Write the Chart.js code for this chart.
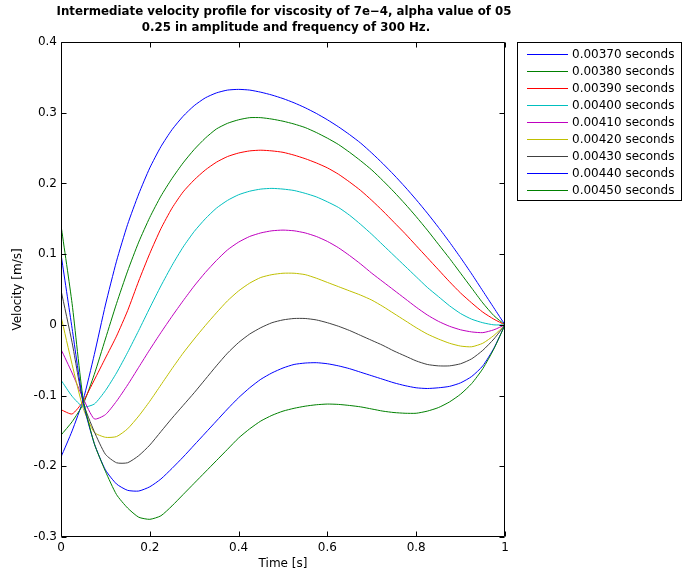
<!DOCTYPE html>
<html>
<head>
<meta charset="utf-8">
<title>Intermediate velocity profile</title>
<script src="https://cdn.jsdelivr.net/npm/chart.js@4/dist/chart.umd.min.js"></script>
<style>
  html, body { margin: 0; padding: 0; background: #ffffff; }
  #wrap { width: 683px; height: 576px; position: relative; }
</style>
</head>
<body>
<div id="wrap"><canvas id="chart" width="683" height="576"></canvas></div>
<script>
// Sample positions along the horizontal axis
const timeAxis = [
  0, 0.025, 0.05, 0.075, 0.1, 0.125, 0.15, 0.175, 0.2, 0.225,
  0.25, 0.275, 0.3, 0.325, 0.35, 0.375, 0.4, 0.425, 0.45, 0.475,
  0.5, 0.525, 0.55, 0.575, 0.6, 0.625, 0.65, 0.675, 0.7, 0.725,
  0.75, 0.775, 0.8, 0.825, 0.85, 0.875, 0.9, 0.925, 0.95, 0.975, 1
];

// Velocity profiles [m/s], one per time instant
const v00370 = [
  -0.187, -0.150, -0.106, -0.042, 0.028, 0.090, 0.142, 0.185, 0.222, 0.252,
  0.276, 0.295, 0.310, 0.321, 0.328, 0.332, 0.333, 0.332, 0.329, 0.325,
  0.320, 0.314, 0.307, 0.299, 0.290, 0.280, 0.269, 0.257, 0.243, 0.228,
  0.212, 0.195, 0.177, 0.158, 0.138, 0.117, 0.095, 0.072, 0.048, 0.024, 0
];
const v00380 = [
  -0.156, -0.137, -0.112, -0.070, -0.020, 0.030, 0.076, 0.117, 0.152, 0.182,
  0.207, 0.229, 0.248, 0.264, 0.277, 0.285, 0.290, 0.293, 0.293, 0.291,
  0.288, 0.284, 0.279, 0.272, 0.264, 0.255, 0.244, 0.232, 0.219, 0.204,
  0.188, 0.171, 0.153, 0.134, 0.114, 0.094, 0.073, 0.052, 0.031, 0.013, 0
];
const v00390 = [
  -0.120, -0.126, -0.108, -0.078, -0.047, -0.016, 0.020, 0.062, 0.101, 0.136,
  0.165, 0.188, 0.205, 0.219, 0.230, 0.238, 0.243, 0.246, 0.247, 0.246,
  0.244, 0.240, 0.235, 0.229, 0.222, 0.213, 0.202, 0.190, 0.176, 0.161,
  0.145, 0.129, 0.112, 0.095, 0.078, 0.061, 0.045, 0.031, 0.018, 0.008, 0
];
const v00400 = [
  -0.078, -0.101, -0.116, -0.112, -0.093, -0.068, -0.039, -0.008, 0.024, 0.055,
  0.084, 0.110, 0.132, 0.150, 0.165, 0.176, 0.184, 0.189, 0.192, 0.193,
  0.192, 0.190, 0.186, 0.181, 0.174, 0.166, 0.155, 0.142, 0.128, 0.113,
  0.098, 0.083, 0.068, 0.053, 0.040, 0.027, 0.016, 0.008, 0.003, 0.000, 0
];
const v00410 = [
  -0.0345, -0.068, -0.104, -0.133, -0.127, -0.108, -0.085, -0.060, -0.035, -0.011,
  0.012, 0.034, 0.055, 0.074, 0.091, 0.106, 0.117, 0.125, 0.130, 0.133,
  0.134, 0.133, 0.130, 0.125, 0.118, 0.109, 0.098, 0.086, 0.073, 0.061,
  0.049, 0.037, 0.025, 0.014, 0.005, -0.002, -0.007, -0.010, -0.011, -0.007, 0
];
const v00420 = [
  0.012, -0.056, -0.118, -0.152, -0.159, -0.158, -0.147, -0.129, -0.108, -0.085,
  -0.062, -0.040, -0.020, -0.001, 0.017, 0.034, 0.048, 0.059, 0.067, 0.071,
  0.073, 0.073, 0.071, 0.066, 0.060, 0.054, 0.048, 0.042, 0.035, 0.026,
  0.016, 0.006, -0.004, -0.013, -0.020, -0.026, -0.030, -0.031, -0.026, -0.015, 0
];
const v00430 = [
  0.049, -0.025, -0.110, -0.151, -0.183, -0.195, -0.195, -0.185, -0.170, -0.151,
  -0.132, -0.114, -0.096, -0.077, -0.058, -0.040, -0.025, -0.013, -0.004, 0.003,
  0.007, 0.009, 0.009, 0.007, 0.003, -0.002, -0.008, -0.015, -0.022, -0.029,
  -0.037, -0.044, -0.051, -0.056, -0.058, -0.058, -0.055, -0.048, -0.036, -0.020, 0
];
const v00440 = [
  0.100, -0.005, -0.110, -0.168, -0.205, -0.225, -0.234, -0.235, -0.229, -0.218,
  -0.203, -0.187, -0.170, -0.153, -0.136, -0.119, -0.103, -0.089, -0.077, -0.068,
  -0.061, -0.056, -0.054, -0.0535, -0.055, -0.058, -0.062, -0.067, -0.072, -0.077,
  -0.082, -0.086, -0.089, -0.090, -0.089, -0.087, -0.082, -0.073, -0.058, -0.033, 0
];
const v00450 = [
  0.141, 0.030, -0.105, -0.168, -0.207, -0.240, -0.259, -0.272, -0.275, -0.270,
  -0.256, -0.240, -0.224, -0.208, -0.192, -0.176, -0.160, -0.147, -0.136, -0.128,
  -0.122, -0.118, -0.115, -0.113, -0.112, -0.1125, -0.114, -0.116, -0.119, -0.122,
  -0.124, -0.125, -0.125, -0.122, -0.117, -0.109, -0.098, -0.083, -0.062, -0.034, 0
];

const seriesLabels = [
  '0.00370 seconds', '0.00380 seconds', '0.00390 seconds',
  '0.00400 seconds', '0.00410 seconds', '0.00420 seconds',
  '0.00430 seconds', '0.00440 seconds', '0.00450 seconds'
];
const seriesValues = [v00370, v00380, v00390, v00400, v00410, v00420, v00430, v00440, v00450];
// classic plot colour cycle: b g r c m y k, then repeating
const seriesColors = ['#0000ff', '#008000', '#ff0000', '#00bfbf', '#bf00bf', '#bfbf00', '#404040', '#0000ff', '#008000'];

const xTicks = [0, 0.2, 0.4, 0.6, 0.8, 1];
const yTicks = [-0.3, -0.2, -0.1, 0, 0.1, 0.2, 0.3, 0.4];

const titleLines = [
  'Intermediate velocity profile for viscosity of 7e\u22124, alpha value of 05',
  '0.25 in amplitude and frequency of 300 Hz.'
];
const xTitle = 'Time [s]';
const yTitle = 'Velocity [m/s]';

const FONT = 'DejaVu Sans';
Chart.defaults.font.family = FONT;
Chart.defaults.font.size = 12;
Chart.defaults.color = '#000000';

const datasets = seriesValues.map((vals, i) => ({
  label: seriesLabels[i],
  data: timeAxis.map((t, k) => ({ x: t, y: vals[k] })),
  borderColor: seriesColors[i],
  backgroundColor: seriesColors[i],
  borderWidth: 1,
  pointRadius: 0,
  tension: 0.2,
  fill: false,
  order: seriesValues.length - i
}));

// Axes box, inward ticks, title and legend
const frame = {
  id: 'frame',
  afterDatasetsDraw(chart) {
    const { ctx, chartArea: a, scales } = chart;
    const xs = scales.x, ys = scales.y;
    const L = Math.round(a.left) + 0.5, R = Math.round(a.right) - 0.5;
    const T = Math.round(a.top) + 0.5, B = Math.round(a.bottom) - 0.5;
    ctx.save();
    ctx.strokeStyle = '#000000';
    ctx.lineWidth = 1;
    ctx.beginPath();
    ctx.rect(L, T, R - L, B - T);
    const tl = 5;
    xTicks.forEach(v => {
      const px = Math.round(xs.getPixelForValue(v)) + 0.5;
      ctx.moveTo(px, B); ctx.lineTo(px, B - tl);
      ctx.moveTo(px, T); ctx.lineTo(px, T + tl);
    });
    yTicks.forEach(v => {
      const py = Math.round(ys.getPixelForValue(v)) + 0.5;
      ctx.moveTo(L, py); ctx.lineTo(L + tl, py);
      ctx.moveTo(R, py); ctx.lineTo(R - tl, py);
    });
    ctx.stroke();
    ctx.restore();
  },
  afterDraw(chart) {
    const { ctx } = chart;
    ctx.save();
    // title
    ctx.fillStyle = '#000000';
    ctx.font = 'bold 11.8px "' + FONT + '"';
    ctx.textAlign = 'center';
    ctx.textBaseline = 'alphabetic';
    ctx.fillText(titleLines[0], 284, 15);
    ctx.fillText(titleLines[1], 286, 31);

    // legend
    const bx = 517.5, by = 42.5, bw = 164, bh = 158;
    ctx.fillStyle = '#ffffff';
    ctx.fillRect(bx, by, bw, bh);
    ctx.strokeStyle = '#000000';
    ctx.lineWidth = 1;
    ctx.strokeRect(bx, by, bw, bh);
    ctx.font = '12px "' + FONT + '"';
    ctx.textAlign = 'left';
    ctx.textBaseline = 'middle';
    chart.data.datasets.forEach((ds, i) => {
      const y = 54 + 17 * i;
      ctx.strokeStyle = ds.borderColor;
      ctx.beginPath();
      ctx.moveTo(527, y + 0.5);
      ctx.lineTo(568, y + 0.5);
      ctx.stroke();
      ctx.fillStyle = '#000000';
      ctx.fillText(ds.label, 572, y + 0.5);
    });
    ctx.restore();
  }
};

new Chart(document.getElementById('chart'), {
  type: 'line',
  data: { datasets },
  options: {
    responsive: false,
    animation: false,
    devicePixelRatio: 1,
    layout: { padding: { left: 0, right: 178, top: 42, bottom: 0 } },
    plugins: { legend: { display: false }, tooltip: { enabled: false }, title: { display: false } },
    elements: { line: { borderCapStyle: 'butt' } },
    scales: {
      x: {
        type: 'linear',
        min: 0, max: 1,
        afterBuildTicks: s => { s.ticks = xTicks.map(v => ({ value: v })); },
        afterFit: s => { s.height = 39; },
        ticks: { padding: 4, maxRotation: 0, autoSkip: false, color: '#000000',
                 callback: v => String(v) },
        grid: { display: false, drawTicks: false },
        border: { display: false },
        title: { display: true, text: xTitle, color: '#000000', padding: { top: 0, bottom: 5 } }
      },
      y: {
        type: 'linear',
        min: -0.3, max: 0.4,
        afterBuildTicks: s => { s.ticks = yTicks.map(v => ({ value: v })); },
        afterFit: s => { s.width = 61; },
        ticks: { padding: 4, autoSkip: false, color: '#000000',
                 callback: v => String(Math.round(v * 10) / 10) },
        grid: { display: false, drawTicks: false },
        border: { display: false },
        title: { display: true, text: yTitle, color: '#000000', padding: { top: 11, bottom: 0 } }
      }
    }
  },
  plugins: [frame]
});
</script>
</body>
</html>
